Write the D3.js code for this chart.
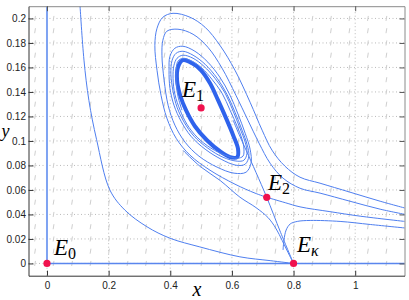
<!DOCTYPE html>
<html>
<head>
<meta charset="utf-8">
<script src="https://cdn.jsdelivr.net/npm/d3@7"></script>
<style>
  body { margin: 0; background: #fff; }
  svg { display: block; }
  .axis text { font-family: "Liberation Sans", Arial, sans-serif; font-size: 10px; fill: #222; }
  .lbl { font-family: "Liberation Serif", "Times New Roman", serif; font-style: italic; fill: #000; }
  .sub { font-family: "Liberation Serif", "Times New Roman", serif; fill: #000; }
</style>
</head>
<body>
<svg id="chart" width="409" height="300"></svg>
<script>
// tick values
var xTicks = [0, 0.2, 0.4, 0.6, 0.8, 1];
var yTicks = [0, 0.02, 0.04, 0.06, 0.08, 0.1, 0.12, 0.14, 0.16, 0.18, 0.2];

// direction field sample positions
var fieldX = [-0.04, 0.02, 0.08, 0.14, 0.2, 0.26, 0.32, 0.38, 0.44, 0.5, 0.56, 0.62, 0.68, 0.74, 0.8, 0.86, 0.92, 0.98, 1.04, 1.1];
var fieldY = [0, 0.01, 0.02, 0.03, 0.04, 0.05, 0.06, 0.07, 0.08, 0.09, 0.1, 0.11, 0.12, 0.13, 0.14, 0.15, 0.16, 0.17, 0.18, 0.19, 0.2];

// equilibria
var equilibria = [
  { name: "E", sub: "0", x: 0, y: 0 },
  { name: "E", sub: "1", x: 0.5, y: 0.127 },
  { name: "E", sub: "2", x: 0.713, y: 0.054 },
  { name: "E", sub: "\u03ba", x: 0.8, y: 0 }
];

// invariant axes
var preyAxis = [[0, 0], [1.2, 0]];
var predAxis = [[0, 0], [0, 0.22]];

// trajectory coming down from the top left into E_kappa
var trajC = [[0.107, 0.211], [0.120, 0.166], [0.136, 0.133], [0.161, 0.101], [0.204, 0.060],
  [0.253, 0.0435], [0.324, 0.030], [0.399, 0.0206], [0.496, 0.0135], [0.626, 0.0054],
  [0.724, 0.0023], [0.8, 0]];

// outermost loop, from the right edge around the cycle into E2
var trajL1 = [[1.175, 0.0443], [1.081, 0.0508], [0.983, 0.0582], [0.886, 0.0655], [0.821, 0.0704],
  [0.772, 0.0794], [0.730, 0.0925], [0.698, 0.1088], [0.659, 0.1316], [0.610, 0.1577],
  [0.561, 0.1781], [0.513, 0.1928], [0.464, 0.2010], [0.409, 0.2042], [0.376, 0.2010],
  [0.357, 0.1920], [0.350, 0.1781], [0.357, 0.1577], [0.370, 0.1373], [0.389, 0.1186],
  [0.419, 0.1022], [0.464, 0.0884], [0.529, 0.0761], [0.610, 0.0647], [0.675, 0.0574],
  [0.713, 0.054]];

// second loop, from the right edge spiralling onto the limit cycle
var trajL2 = [[1.175, 0.0394], [1.081, 0.0443], [0.983, 0.0508], [0.886, 0.0574], [0.821, 0.0614],
  [0.766, 0.0696], [0.724, 0.0818], [0.688, 0.0982], [0.652, 0.1169], [0.613, 0.1373],
  [0.568, 0.1594], [0.522, 0.1765], [0.474, 0.1871], [0.425, 0.1912], [0.389, 0.1896],
  [0.376, 0.1822], [0.373, 0.1700], [0.380, 0.1496], [0.393, 0.1292], [0.415, 0.1129],
  [0.448, 0.0990], [0.493, 0.0876], [0.552, 0.0786], [0.607, 0.0737], [0.646, 0.0745],
  [0.662, 0.0818], [0.659, 0.0933], [0.643, 0.1063],
  [0.620, 0.1218], [0.594, 0.1373], [0.561, 0.1520], [0.522, 0.1643], [0.480, 0.1732],
  [0.441, 0.1773], [0.415, 0.1757], [0.399, 0.1692], [0.396, 0.1577], [0.399, 0.1430],
  [0.412, 0.1292], [0.435, 0.1161], [0.467, 0.1039], [0.513, 0.0933], [0.565, 0.0851],
  [0.613, 0.0802], [0.643, 0.0810], [0.655, 0.0876], [0.649, 0.0973], [0.633, 0.1088],
  [0.610, 0.1235], [0.584, 0.1381], [0.552, 0.1512], [0.513, 0.1626], [0.474, 0.1700],
  [0.441, 0.1732], [0.419, 0.1716], [0.406, 0.1659], [0.402, 0.1545], [0.409, 0.1406],
  [0.422, 0.1275], [0.445, 0.1153], [0.477, 0.1039], [0.522, 0.0941], [0.571, 0.0867],
  [0.617, 0.0835], [0.639, 0.0843], [0.649, 0.0900], [0.643, 0.0990], [0.626, 0.1104],
  [0.604, 0.1243], [0.578, 0.1390], [0.545, 0.1512], [0.509, 0.1610], [0.474, 0.1675],
  [0.441, 0.1700], [0.422, 0.1675], [0.412, 0.1618], [0.409, 0.1512], [0.415, 0.1381],
  [0.432, 0.1251], [0.454, 0.1137], [0.487, 0.1031], [0.532, 0.0941], [0.578, 0.0884],
  [0.617, 0.0859], [0.636, 0.0876], [0.639, 0.0933], [0.633, 0.1014], [0.617, 0.1120],
  [0.594, 0.1251], [0.568, 0.1390], [0.535, 0.1504], [0.503, 0.1594], [0.471, 0.1651],
  [0.441, 0.1675], [0.425, 0.1651], [0.419, 0.1585], [0.419, 0.1488], [0.425, 0.1365],
  [0.438, 0.1251]];

// limit cycle (thick band)
var limitCycle = [[0.441, 0.1659], [0.471, 0.1634], [0.500, 0.1577], [0.529, 0.1471], [0.555, 0.1333],
  [0.581, 0.1186], [0.604, 0.1047], [0.620, 0.0933], [0.617, 0.0868], [0.594, 0.0868],
  [0.561, 0.0916], [0.519, 0.1006], [0.480, 0.1120], [0.451, 0.1251], [0.432, 0.1373],
  [0.422, 0.1496], [0.425, 0.1602]];

// branch passing below E2 and running into E_kappa
var trajM = [[0.442, 0.0922], [0.497, 0.0792], [0.562, 0.0677], [0.626, 0.0541], [0.678, 0.0456],
  [0.717, 0.0375], [0.743, 0.0285], [0.763, 0.0188], [0.782, 0.0090], [0.8, 0]];

// separatrix through E2 down to E_kappa, upper end winding to the cycle
var trajU = [[0.8, 0], [0.758, 0.0253], [0.713, 0.054], [0.678, 0.0744], [0.646, 0.0925],
  [0.623, 0.1055], [0.604, 0.1169]];

// branch leaving E2 to the right edge
var trajR3 = [[0.713, 0.054], [0.773, 0.0496], [0.821, 0.0462], [0.918, 0.0423], [1.016, 0.0386], [1.175, 0.0339]];

// branch leaving E_kappa upward then to the right edge
var trajR4 = [[0.766, 0.0110], [0.769, 0.0192], [0.776, 0.0273], [0.789, 0.0322], [0.812, 0.0343],
  [0.854, 0.0351], [0.951, 0.0343], [1.049, 0.0318], [1.175, 0.0286]];

var svg = d3.select("#chart");

var x = d3.scaleLinear().domain([-0.06, 1.16]).range([28.5, 404.5]);
var y = d3.scaleLinear().domain([-0.01, 0.21]).range([275.7, 6.2]);

svg.append("defs").append("clipPath").attr("id", "plotclip")
  .append("rect")
  .attr("x", x(-0.06)).attr("y", y(0.21))
  .attr("width", x(1.16) - x(-0.06)).attr("height", y(-0.01) - y(0.21));

// dotted grid
svg.append("g").selectAll("line.gx")
  .data(xTicks).enter().append("line")
  .attr("x1", function(d) { return x(d); }).attr("x2", function(d) { return x(d); })
  .attr("y1", y(-0.01)).attr("y2", y(0.21))
  .attr("stroke", "#a8a8a8").attr("stroke-width", 0.8).attr("stroke-dasharray", "1,2.5");
svg.append("g").selectAll("line.gy")
  .data(yTicks).enter().append("line")
  .attr("y1", function(d) { return y(d); }).attr("y2", function(d) { return y(d); })
  .attr("x1", x(-0.06)).attr("x2", x(1.16))
  .attr("stroke", "#a8a8a8").attr("stroke-width", 0.8).attr("stroke-dasharray", "1,2.5");

// direction field marks
var field = [];
fieldX.forEach(function(fx) { fieldY.forEach(function(fy) { field.push([fx, fy]); }); });
svg.append("g").attr("clip-path", "url(#plotclip)")
  .selectAll("line").data(field).enter().append("line")
  .attr("x1", function(d) { return x(d[0]); }).attr("x2", function(d) { return x(d[0]) + 0.8; })
  .attr("y1", function(d) { return y(d[1]) + 2.5; }).attr("y2", function(d) { return y(d[1]) - 2.5; })
  .attr("stroke", "#cfcfcf").attr("stroke-width", 1);

var line = d3.line()
  .x(function(d) { return x(d[0]); })
  .y(function(d) { return y(d[1]); })
  .curve(d3.curveCatmullRom.alpha(0.5));

var plot = svg.append("g").attr("clip-path", "url(#plotclip)");

plot.append("path").datum(predAxis).attr("d", line)
  .attr("fill", "none").attr("stroke", "#7fa3f2").attr("stroke-width", 2);
plot.append("path").datum(preyAxis).attr("d", line)
  .attr("fill", "none").attr("stroke", "#5a86ee").attr("stroke-width", 1.6);

plot.append("path").datum(limitCycle)
  .attr("d", d3.line()
    .x(function(d) { return x(d[0]); })
    .y(function(d) { return y(d[1]); })
    .curve(d3.curveCatmullRomClosed.alpha(0.5)))
  .attr("fill", "none").attr("stroke", "#2f63ec").attr("stroke-width", 4);

[trajC, trajL1, trajL2, trajM, trajU, trajR3, trajR4].forEach(function(t) {
  plot.append("path").datum(t).attr("d", line)
    .attr("fill", "none").attr("stroke", "#4f7fef").attr("stroke-width", 1);
});

// axes
var xAxis = d3.axisBottom(x).tickValues(xTicks).tickSize(-5).tickSizeOuter(0).tickPadding(6)
  .tickFormat(function(d) { return d === 0 ? "0" : d3.format("")(d); });
var yAxis = d3.axisLeft(y).tickValues(yTicks).tickSize(-5).tickSizeOuter(0).tickPadding(2.5)
  .tickFormat(function(d) { return d === 0 ? "0" : d3.format("")(d); });

svg.append("g").attr("class", "axis frame").attr("transform", "translate(0," + y(0.21) + ")")
  .call(d3.axisTop(x).tickValues(xTicks).tickSize(-5).tickSizeOuter(0).tickFormat(""));
svg.append("g").attr("class", "axis frame").attr("transform", "translate(" + x(1.16) + ",0)")
  .call(d3.axisRight(y).tickValues(yTicks).tickSize(-5).tickSizeOuter(0).tickFormat(""));
svg.selectAll(".frame path.domain").attr("stroke", "#8a8a8a");
svg.selectAll(".frame line").attr("stroke", "#555");

svg.append("g").attr("class", "axis main").attr("transform", "translate(0," + y(-0.01) + ")").call(xAxis);
svg.append("g").attr("class", "axis main").attr("transform", "translate(" + x(-0.06) + ",0)").call(yAxis);
svg.selectAll(".main path.domain").attr("stroke", "#333");
svg.selectAll(".main line").attr("stroke", "#333");

// axis titles
svg.append("text").attr("class", "lbl").attr("x", 197).attr("y", 296)
  .attr("text-anchor", "middle").style("font-size", "20px").text("x");
svg.append("text").attr("class", "lbl").attr("x", 5.5).attr("y", 136.5)
  .attr("text-anchor", "middle").style("font-size", "18px").text("y");

// equilibrium points and labels
var labelPos = [[54, 255], [182, 97], [268, 190], [297, 252]];
svg.selectAll("circle.eq").data(equilibria).enter().append("circle")
  .attr("cx", function(d) { return x(d.x); })
  .attr("cy", function(d) { return y(d.y); })
  .attr("r", 3.6).attr("fill", "#f0124e");

equilibria.forEach(function(d, i) {
  var t = svg.append("text").attr("x", labelPos[i][0]).attr("y", labelPos[i][1]);
  t.append("tspan").attr("class", "lbl").style("font-size", "23px").text(d.name);
  t.append("tspan").attr("class", d.sub === "\u03ba" ? "lbl" : "sub").attr("dy", 4)
    .style("font-size", "16px").text(d.sub);
});
</script>
</body>
</html>
